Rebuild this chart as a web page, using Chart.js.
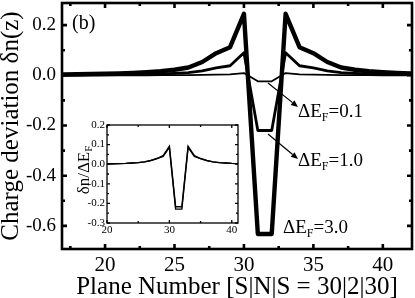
<!DOCTYPE html>
<html><head><meta charset="utf-8">
<script src="https://cdn.jsdelivr.net/npm/chart.js@4.4.1/dist/chart.umd.min.js"></script>
<style>
html,body{margin:0;padding:0;background:#fff;}
#wrap{position:relative;width:415px;height:298px;overflow:hidden;}
#main{position:absolute;left:0;top:0;}
#inset{position:absolute;left:70px;top:110px;}
</style></head><body>
<div id="wrap"><canvas id="main" width="415" height="298"></canvas><canvas id="inset" width="175" height="128"></canvas></div>
<script>
// ---- main chart data ----
const planes = [15,16,17,18,19,20,21,22,23,24,25,26,27,28,29,30,31,32,33,34,35,36,37,38,39,40,41,42,43,44];
const dE3  = [0.002,0.002,0.003,0.004,0.005,0.006,0.007,0.009,0.012,0.016,0.022,0.031,0.053,0.088,0.112,0.245,-0.632,-0.632,0.245,0.112,0.088,0.053,0.031,0.022,0.016,0.012,0.009,0.007,0.006,0.005];
const dE1  = [0.000,0.001,0.001,0.001,0.002,0.002,0.003,0.003,0.004,0.006,0.008,0.011,0.018,0.030,0.038,0.090,-0.220,-0.220,0.090,0.038,0.030,0.018,0.011,0.008,0.006,0.004,0.003,0.003,0.002,0.002];
const dE01 = [0.000,0.000,0.000,0.000,0.000,0.000,0.000,0.000,0.000,0.001,0.001,0.001,0.002,0.003,0.004,0.009,-0.024,-0.024,0.009,0.004,0.003,0.002,0.001,0.001,0.001,0.000,0.000,0.000,0.000,0.000];
const dELabels = ['0.1','1.0','3.0'];
const xTicks = [20,25,30,35,40];
const xMinor = [17.5,22.5,27.5,32.5,37.5];
const yTicks = [-0.6,-0.4,-0.2,0.0,0.2];
const yMinor = [-0.5,-0.3,-0.1,0.1];
// ---- inset data (δn/ΔE_F) ----
const insetPlanes = [20,21,22,23,24,25,26,27,28,29,30,31,32,33,34,35,36,37,38,39,40,41];
const insetA = [0.001,0.002,0.003,0.004,0.006,0.008,0.012,0.019,0.029,0.044,0.092,-0.217,-0.217,0.092,0.044,0.029,0.019,0.012,0.008,0.006,0.004,0.003];
const insetB = [0.001,0.002,0.003,0.004,0.006,0.008,0.012,0.018,0.028,0.040,0.086,-0.229,-0.229,0.086,0.040,0.028,0.018,0.012,0.008,0.006,0.004,0.003];
const insetXTicks = [20,30,40];
const insetXMinor = [25,35];
const insetYTicks = [-0.3,-0.2,-0.1,0.0,0.1,0.2];
const insetYMinor = [-0.25,-0.15,-0.05,0.05,0.15];

const SERIF = '"Liberation Serif", "Times New Roman", serif';
Chart.defaults.font.family = SERIF;
Chart.defaults.color = '#000';

function pts(xs, ys){ return xs.map((x,i)=>({x:x,y:ys[i]})); }

function drawSub(ctx, x, y, parts, size){
  let cx = x;
  for (const [t, sub] of parts){
    const s = sub ? Math.round(size*0.62) : size;
    ctx.font = s + 'px ' + SERIF;
    ctx.fillText(t, cx, sub ? y + size*0.22 : y);
    cx += ctx.measureText(t).width;
  }
  return cx - x;
}
function measureSub(ctx, parts, size){
  let w = 0;
  for (const [t, sub] of parts){
    const s = sub ? Math.round(size*0.62) : size;
    ctx.font = s + 'px ' + SERIF;
    w += ctx.measureText(t).width;
  }
  return w;
}

function frameTicks(chart, lw, majLen, minLen, xt, xm, yt, ym){
  const ctx = chart.ctx, a = chart.chartArea, xs = chart.scales.x, ys = chart.scales.y;
  ctx.save();
  ctx.strokeStyle = '#000';
  ctx.lineWidth = lw;
  ctx.lineCap = 'butt';
  ctx.beginPath();
  const tick = (vals, len, horiz) => {
    for (const v of vals){
      if (horiz){
        const p = xs.getPixelForValue(v);
        ctx.moveTo(p, a.bottom); ctx.lineTo(p, a.bottom - len);
        ctx.moveTo(p, a.top); ctx.lineTo(p, a.top + len);
      } else {
        const p = ys.getPixelForValue(v);
        ctx.moveTo(a.left, p); ctx.lineTo(a.left + len, p);
        ctx.moveTo(a.right, p); ctx.lineTo(a.right - len, p);
      }
    }
  };
  tick(xt, majLen, true); tick(xm, minLen, true);
  tick(yt, majLen, false); tick(ym, minLen, false);
  ctx.stroke();
  ctx.lineJoin = 'miter';
  ctx.strokeRect(a.left, a.top, a.right - a.left, a.bottom - a.top);
  ctx.restore();
}

function arrow(ctx, x1, y1, x2, y2){
  ctx.save();
  ctx.strokeStyle = '#000'; ctx.fillStyle = '#000'; ctx.lineWidth = 1.2;
  const ang = Math.atan2(y2 - y1, x2 - x1);
  const hl = 7, hw = 3;
  const bx = x2 - hl*Math.cos(ang), by = y2 - hl*Math.sin(ang);
  ctx.beginPath(); ctx.moveTo(x1, y1); ctx.lineTo(bx, by); ctx.stroke();
  ctx.beginPath();
  ctx.moveTo(x2, y2);
  ctx.lineTo(bx + hw*Math.sin(ang), by - hw*Math.cos(ang));
  ctx.lineTo(bx - hw*Math.sin(ang), by + hw*Math.cos(ang));
  ctx.closePath(); ctx.fill();
  ctx.restore();
}

const noPadX = s => { s.paddingLeft = 0; s.paddingRight = 0; };
const noPadY = s => { s.paddingTop = 0; s.paddingBottom = 0; };

const mainDeco = {
  id: 'mainDeco',
  afterDatasetsDraw(chart){
    frameTicks(chart, 2.6, 5, 3, xTicks, xMinor, yTicks, yMinor);
    const ctx = chart.ctx;
    ctx.save();
    ctx.fillStyle = '#000';
    ctx.textBaseline = 'alphabetic';
    ctx.textAlign = 'left';
    ctx.font = '20px ' + SERIF;
    ctx.fillText('(b)', 72, 29);
    drawSub(ctx, 298, 117, [['ΔE',false],['F',true],['='+dELabels[0],false]], 19);
    drawSub(ctx, 298, 166, [['ΔE',false],['F',true],['='+dELabels[1],false]], 19);
    drawSub(ctx, 283, 233, [['ΔE',false],['F',true],['='+dELabels[2],false]], 19);
    ctx.restore();
    arrow(ctx, 268, 83, 298, 107);
    arrow(ctx, 268, 134, 298, 159);
  }
};

new Chart(document.getElementById('main'), {
  type: 'line',
  data: {
    datasets: [
      {data: pts(planes, dE01), borderColor:'#000', borderWidth:1.8},
      {data: pts(planes, dE1), borderColor:'#000', borderWidth:2.8},
      {data: pts(planes, dE3), borderColor:'#000', borderWidth:4.4}
    ]
  },
  options: {
    responsive:false, animation:false, devicePixelRatio:1,
    layout:{padding:{left:0,right:3,top:3,bottom:0}},
    plugins:{legend:{display:false}, tooltip:{enabled:false}},
    elements:{point:{radius:0}, line:{tension:0, borderJoinStyle:'round', borderCapStyle:'butt'}},
    scales:{
      x:{type:'linear', min:16.9, max:42.1, bounds:'data',
        grid:{display:false, drawTicks:false}, border:{display:false},
        afterBuildTicks:s=>{ s.ticks = xTicks.map(v=>({value:v})); },
        ticks:{font:{family:SERIF, size:21}, color:'#000', padding:4, maxRotation:0, autoSkip:false, callback:v=>String(v)},
        title:{display:true, text:'Plane Number [S|N|S = 30|2|30]', color:'#000', font:{family:SERIF, size:25, lineHeight:1}, padding:{top:0,bottom:-2}},
        afterFit:s=>{ s.height = 49; noPadX(s); }
      },
      y:{type:'linear', min:-0.692, max:0.288, bounds:'data',
        grid:{display:false, drawTicks:false}, border:{display:false},
        afterBuildTicks:s=>{ s.ticks = yTicks.map(v=>({value:v})); },
        ticks:{font:{family:SERIF, size:19}, color:'#000', padding:6, autoSkip:false, callback:v=>(Math.abs(v)<1e-9?0:v).toFixed(1)},
        title:{display:true, text:'Charge deviation δn(z)', color:'#000', font:{family:SERIF, size:25, lineHeight:1}, padding:{top:-1.5,bottom:0}},
        afterFit:s=>{ s.width = 62; noPadY(s); }
      }
    }
  },
  plugins:[mainDeco]
});

const insetDeco = {
  id: 'insetDeco',
  afterDatasetsDraw(chart){
    frameTicks(chart, 1.3, 3, 2, insetXTicks, insetXMinor, insetYTicks, insetYMinor);
    const ctx = chart.ctx;
    ctx.save();
    ctx.fillStyle = '#000';
    ctx.textBaseline = 'alphabetic';
    ctx.textAlign = 'left';
    const parts = [['δn/ΔE',false],['F',true]];
    const size = 17;
    const w = measureSub(ctx, parts, size);
    ctx.translate(13, 60);
    ctx.rotate(-Math.PI/2);
    drawSub(ctx, -w/2, size*0.33, parts, size);
    ctx.restore();
  }
};

new Chart(document.getElementById('inset'), {
  type: 'line',
  data: {
    datasets: [
      {data: pts(insetPlanes, insetB), borderColor:'#000', borderWidth:1.4},
      {data: pts(insetPlanes, insetA), borderColor:'#000', borderWidth:1.4}
    ]
  },
  options: {
    responsive:false, animation:false, devicePixelRatio:1,
    layout:{padding:{left:0,right:7,top:15,bottom:0}},
    plugins:{legend:{display:false}, tooltip:{enabled:false}},
    elements:{point:{radius:0}, line:{tension:0, borderJoinStyle:'miter'}},
    scales:{
      x:{type:'linear', min:20, max:41, bounds:'data',
        grid:{display:false, drawTicks:false}, border:{display:false},
        afterBuildTicks:s=>{ s.ticks = insetXTicks.map(v=>({value:v})); },
        ticks:{font:{family:SERIF, size:11}, color:'#000', padding:1, maxRotation:0, autoSkip:false, callback:v=>String(v)},
        afterFit:s=>{ s.height = 15; noPadX(s); }
      },
      y:{type:'linear', min:-0.3, max:0.2, bounds:'data',
        grid:{display:false, drawTicks:false}, border:{display:false},
        afterBuildTicks:s=>{ s.ticks = insetYTicks.map(v=>({value:v})); },
        ticks:{font:{family:SERIF, size:11}, color:'#000', padding:2, autoSkip:false, callback:v=>(Math.abs(v)<1e-9?0:v).toFixed(1)},
        afterFit:s=>{ s.width = 37; noPadY(s); }
      }
    }
  },
  plugins:[insetDeco]
});
</script>
</body></html>
